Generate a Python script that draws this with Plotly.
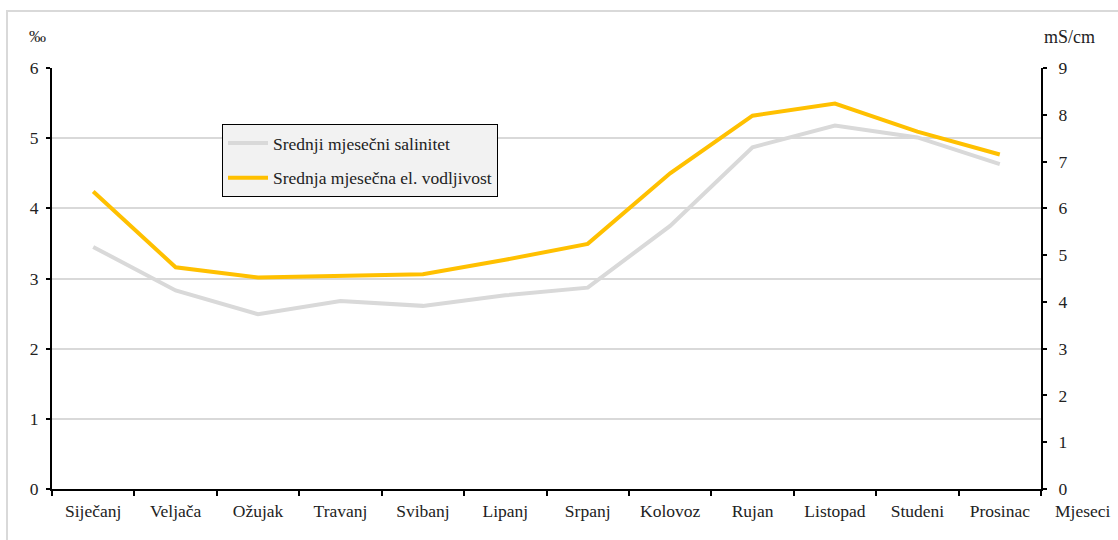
import plotly.graph_objects as go

months = ["Siječanj", "Veljača", "Ožujak", "Travanj", "Svibanj", "Lipanj",
          "Srpanj", "Kolovoz", "Rujan", "Listopad", "Studeni", "Prosinac"]
salinity = [3.45, 2.83, 2.49, 2.68, 2.61, 2.76, 2.87, 3.75, 4.87, 5.18, 5.01, 4.63]
conductivity = [6.36, 4.74, 4.52, 4.55, 4.59, 4.90, 5.24, 6.75, 7.98, 8.24, 7.64, 7.15]

left_ticks = [0, 1, 2, 3, 4, 5, 6]
right_ticks = [0, 1, 2, 3, 4, 5, 6, 7, 8, 9]

FONT = "Liberation Serif, Times New Roman, serif"
FS = 17.5

W, H = 1118, 540
L, R, T, B = 52, 77, 68, 51
pw, ph = W - L - R, H - T - B

def px(x):
    return (x - L) / pw

def py(y):
    return (H - B - y) / ph

fig = go.Figure()
fig.add_trace(go.Scatter(
    x=months, y=salinity, mode="lines", name="Srednji mjesečni salinitet",
    line=dict(color="#D9D9D9", width=4), legendgroup="a", yaxis="y"))
fig.add_trace(go.Scatter(
    x=months, y=conductivity, mode="lines", name="Srednja mjesečna el. vodljivost",
    line=dict(color="#FFC000", width=4), legendgroup="b", yaxis="y2"))

fig.update_layout(
    width=W, height=H,
    margin=dict(l=L, r=R, t=T, b=B, autoexpand=False),
    paper_bgcolor="white", plot_bgcolor="white",
    font=dict(family=FONT, size=FS, color="#222"),
    xaxis=dict(type="category", range=[-0.5, 11.5], tickson="boundaries",
               ticks="outside", ticklen=5, tickwidth=2, tickcolor="black",
               showline=True, linecolor="black", linewidth=2, showgrid=False,
               ticklabelstandoff=5,
               tickfont=dict(size=FS, family=FONT)),
    yaxis=dict(range=[0, 6], tickvals=left_ticks, ticks="outside", ticklen=4,
               tickwidth=2, tickcolor="black", showline=True, linecolor="black",
               linewidth=2, showgrid=True, gridcolor="#D9D9D9", gridwidth=1.5,
               zeroline=False, ticklabelstandoff=4,
               tickfont=dict(size=FS, family=FONT)),
    yaxis2=dict(range=[0, 9], tickvals=right_ticks, overlaying="y", side="right",
                ticks="outside", ticklen=4, tickwidth=2, tickcolor="black",
                showline=True, linecolor="black", linewidth=2, showgrid=False,
                zeroline=False, ticklabelstandoff=8,
                tickfont=dict(size=FS, family=FONT)),
    legend=dict(x=px(222), y=py(124), xanchor="left", yanchor="top",
                bgcolor="#F2F2F2", bordercolor="black", borderwidth=1,
                font=dict(size=FS, family=FONT, color="#222"),
                traceorder="grouped", tracegroupgap=9, itemwidth=40),
    showlegend=True,
)

fig.add_annotation(text="‰", x=px(37), y=py(37), xref="paper", yref="paper",
                   xanchor="center", yanchor="middle",
                   showarrow=False, font=dict(size=17, family=FONT, color="#222"))
fig.add_annotation(text="mS/cm", x=px(1069), y=py(37), xref="paper", yref="paper",
                   xanchor="center", yanchor="middle",
                   showarrow=False, font=dict(size=18, family=FONT, color="#222"))
fig.add_annotation(text="Mjeseci", x=px(1083), y=py(511), xref="paper", yref="paper",
                   xanchor="center", yanchor="middle",
                   showarrow=False, font=dict(size=FS, family=FONT, color="#222"))

fig.add_shape(type="rect", xref="paper", yref="paper",
              x0=px(7), x1=px(1140), y0=py(11), y1=py(570),
              line=dict(color="#D9D9D9", width=2), layer="below")

fig.write_html("out.html", config={"displayModeBar": False},
               post_script="document.body.style.margin='0';document.body.style.overflow='hidden';")
